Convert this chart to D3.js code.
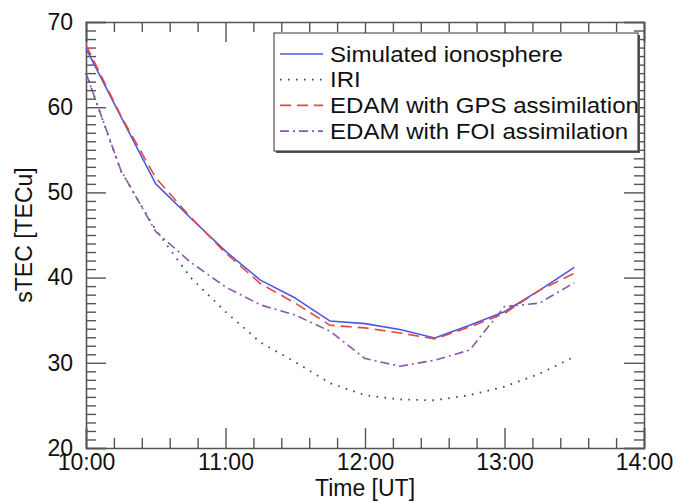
<!DOCTYPE html>
<html>
<head>
<meta charset="utf-8">
<script src="https://cdn.jsdelivr.net/npm/d3@7"></script>
<style>
  body { margin: 0; background: #fff; }
  svg { display: block; font-family: "Liberation Sans", Arial, Helvetica, sans-serif; }
  .frame path.domain { stroke: #555; stroke-width: 1.6; }
  .frame line { stroke: #555; stroke-width: 1.4; }
  .frame text { fill: #111; font-size: 23px; }
</style>
</head>
<body>
<svg id="chart" width="685" height="503"></svg>
<script>
const svg = d3.select("#chart");

// time in decimal hours (UT), every 15 minutes
const times = [10, 10.25, 10.5, 10.75, 11, 11.25, 11.5, 11.75, 12, 12.25, 12.5, 12.75, 13, 13.25, 13.5];
const simulated = [66.9, 58.9, 51.0, 47.0, 43.1, 39.7, 37.6, 34.9, 34.6, 33.9, 32.9, 34.4, 36.0, 38.5, 41.2];
const iri = [64.0, 52.5, 45.6, 40.0, 36.0, 32.4, 30.1, 27.6, 26.2, 25.7, 25.6, 26.2, 27.2, 28.7, 30.7];
const edamGps = [67.3, 59.0, 51.7, 47.1, 42.9, 39.3, 37.0, 34.4, 34.1, 33.5, 32.8, 34.2, 35.8, 38.5, 40.5];
const edamFoi = [64.0, 52.6, 45.4, 41.8, 38.9, 36.8, 35.6, 33.7, 30.5, 29.6, 30.3, 31.5, 36.6, 37.0, 39.4];

const seriesNames = ["Simulated ionosphere", "IRI", "EDAM with GPS assimilation", "EDAM with FOI assimilation"];
const xTickLabels = ["10:00", "11:00", "12:00", "13:00", "14:00"];
const yTicks = [20, 30, 40, 50, 60, 70];

const plot = { left: 86, right: 644, top: 22, bottom: 448 };

const x = d3.scaleLinear().domain([10, 14]).range([plot.left, plot.right]);
const y = d3.scaleLinear().domain([20, 70]).range([plot.bottom, plot.top]);

const styles = [
  { color: "#4a5ae0", dash: null, width: 1.6 },
  { color: "#4a4058", dash: "1.6,6.4", width: 1.8 },
  { color: "#e8483f", dash: "11,6", width: 1.6 },
  { color: "#8a58a6", dash: "9,4,2,4", width: 1.6 },
];

const series = [simulated, iri, edamGps, edamFoi].map((values, i) => ({
  name: seriesNames[i],
  points: values.map((v, j) => ({ t: times[j], v })),
  style: styles[i],
}));

// frame: major + minor ticks on all four sides, pointing inward
const majorX = d3.range(10, 14.001, 1);
const minorX = d3.range(10, 14.001, 0.2).filter((t) => Math.abs(t - Math.round(t)) > 1e-6);
const minorY = d3.range(20, 70.001, 1).filter((v) => v % 10 !== 0);

const frame = svg.append("g").attr("class", "frame");

frame.append("g")
  .attr("transform", `translate(0,${plot.bottom})`)
  .call(d3.axisBottom(x).tickValues(majorX).tickSize(-20).tickPadding(6)
    .tickFormat((d, i) => xTickLabels[i]));
frame.append("g")
  .attr("transform", `translate(0,${plot.bottom})`)
  .call(d3.axisBottom(x).tickValues(minorX).tickSize(-10).tickFormat(""))
  .call((g) => g.select(".domain").remove());

frame.append("g")
  .attr("transform", `translate(0,${plot.top})`)
  .call(d3.axisTop(x).tickValues(majorX).tickSize(-20).tickFormat(""));
frame.append("g")
  .attr("transform", `translate(0,${plot.top})`)
  .call(d3.axisTop(x).tickValues(minorX).tickSize(-10).tickFormat(""))
  .call((g) => g.select(".domain").remove());

frame.append("g")
  .attr("transform", `translate(${plot.left},0)`)
  .call(d3.axisLeft(y).tickValues(yTicks).tickSize(-20).tickPadding(13).tickFormat(d3.format("d")));
frame.append("g")
  .attr("transform", `translate(${plot.left},0)`)
  .call(d3.axisLeft(y).tickValues(minorY).tickSize(-10).tickFormat(""))
  .call((g) => g.select(".domain").remove());

frame.append("g")
  .attr("transform", `translate(${plot.right},0)`)
  .call(d3.axisRight(y).tickValues(yTicks).tickSize(-20).tickFormat(""));
frame.append("g")
  .attr("transform", `translate(${plot.right},0)`)
  .call(d3.axisRight(y).tickValues(minorY).tickSize(-10).tickFormat(""))
  .call((g) => g.select(".domain").remove());

frame.selectAll(".tick text").attr("font-family", null).attr("font-size", null);

// series lines
const line = d3.line().x((d) => x(d.t)).y((d) => y(d.v));

svg.append("g")
  .selectAll("path")
  .data(series)
  .join("path")
  .attr("d", (d) => line(d.points))
  .attr("fill", "none")
  .attr("stroke", (d) => d.style.color)
  .attr("stroke-width", (d) => d.style.width)
  .attr("stroke-dasharray", (d) => d.style.dash)
  .attr("stroke-linejoin", "round");

// legend
const legend = svg.append("g").attr("transform", "translate(274,33)");
const legendW = 364;
const legendH = 118;
legend.append("rect")
  .attr("x", 2).attr("y", 2).attr("width", legendW).attr("height", legendH)
  .attr("fill", "#555");
legend.append("rect")
  .attr("width", legendW).attr("height", legendH)
  .attr("fill", "#fff").attr("stroke", "#333").attr("stroke-width", 1);

const rows = legend.selectAll("g.row")
  .data(series)
  .join("g")
  .attr("class", "row")
  .attr("transform", (d, i) => `translate(0,${21 + i * 25.7})`);

rows.append("line")
  .attr("x1", 6).attr("x2", 49)
  .attr("stroke", (d) => d.style.color)
  .attr("stroke-width", (d) => d.style.width)
  .attr("stroke-dasharray", (d) => d.style.dash);

rows.append("text")
  .attr("transform", "translate(56,0) scale(1.12,1)")
  .attr("dy", "0.36em")
  .attr("font-size", 21.5)
  .attr("fill", "#111")
  .text((d) => d.name);

// axis titles
svg.append("text")
  .attr("x", (plot.left + plot.right) / 2)
  .attr("y", 496)
  .attr("text-anchor", "middle")
  .attr("font-size", 23)
  .attr("fill", "#111")
  .text("Time [UT]");

svg.append("text")
  .attr("transform", `translate(32,${(plot.top + plot.bottom) / 2}) rotate(-90)`)
  .attr("text-anchor", "middle")
  .attr("font-size", 23)
  .attr("fill", "#111")
  .text("sTEC [TECu]");
</script>
</body>
</html>
